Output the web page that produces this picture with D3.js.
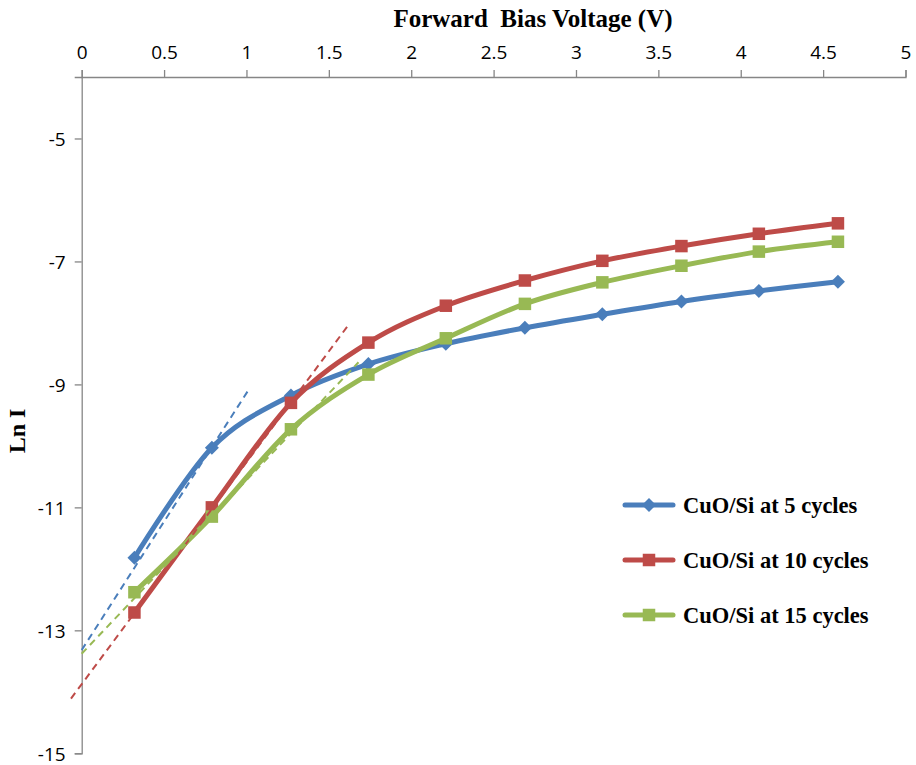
<!DOCTYPE html>
<html>
<head>
<meta charset="utf-8">
<script src="https://cdn.jsdelivr.net/npm/d3@7"></script>
<style>
  html, body { margin: 0; padding: 0; background: #fff; }
  svg { display: block; }
</style>
</head>
<body>
<svg id="chart" width="916" height="765"></svg>
<script>
// ---- data ----
const voltage = [0.32, 0.79, 1.27, 1.74, 2.21, 2.69, 3.16, 3.64, 4.11, 4.59];
const lnI5  = [-11.82, -10.03, -9.18, -8.67, -8.34, -8.08, -7.86, -7.65, -7.48, -7.33];
const lnI10 = [-12.71, -11.00, -9.30, -8.32, -7.72, -7.31, -6.99, -6.75, -6.55, -6.38];
const lnI15 = [-12.38, -11.15, -9.73, -8.84, -8.25, -7.69, -7.34, -7.07, -6.84, -6.68];
const seriesNames = ["CuO/Si at 5 cycles", "CuO/Si at 10 cycles", "CuO/Si at 15 cycles"];
// linear-fit (dashed) segments: [x, y] endpoints
const fit5  = [[0, -13.32], [1.01, -9.10]];
const fit10 = [[-0.065, -14.11], [1.62, -8.03]];
const fit15 = [[0, -13.38], [1.68, -8.64]];
const xTicks = [0, 0.5, 1, 1.5, 2, 2.5, 3, 3.5, 4, 4.5, 5];
const yTicks = [-15, -13, -11, -9, -7, -5];
const xTitle = "Forward  Bias Voltage (V)";
const yTitle = "Ln I";

// ---- layout ----
const svg = d3.select("#chart");
const x = d3.scaleLinear().domain([0, 5]).range([81.7, 905.5]);
const y = d3.scaleLinear().domain([-15, -4]).range([753.3, 77]);
const axisColor = "#868686";
const tickFont = "'Open Sans', sans-serif";
const serif = "'Liberation Serif', 'Times New Roman', serif";

// x axis (top)
const xAxis = svg.append("g").attr("transform", `translate(0,${y(-4)})`)
  .call(d3.axisTop(x).tickValues(xTicks).tickSize(7).tickPadding(11)
    .tickFormat(d3.format("")));
// y axis (left)
const yAxis = svg.append("g").attr("transform", `translate(${x(0)},0)`)
  .call(d3.axisLeft(y).tickValues(yTicks).tickSize(7).tickPadding(9)
    .tickFormat(d => d));
[xAxis, yAxis].forEach(g => {
  g.select(".domain").attr("stroke", axisColor).attr("stroke-width", 1.3);
  g.selectAll(".tick line").attr("stroke", axisColor).attr("stroke-width", 1.3);
  g.selectAll(".tick text").attr("fill", "#000").style("font-family", tickFont).style("font-size", "19px");
});
yAxis.selectAll(".tick text").attr("dy", "0.36em");

// titles
svg.append("text").attr("x", 533).attr("y", 27).attr("text-anchor", "middle")
  .style("font-family", serif).style("font-weight", "bold").style("font-size", "25px")
  .style("white-space", "pre").attr("xml:space", "preserve").text(xTitle);
svg.append("text").attr("transform", "translate(25,431) rotate(-90)").attr("text-anchor", "middle")
  .style("font-family", serif).style("font-weight", "bold").style("font-size", "24px").text(yTitle);

// series
const colors = ["#4A7EBB", "#BE4B48", "#98B954"];
const series = [lnI5, lnI10, lnI15].map((vals, i) => ({
  name: seriesNames[i], color: colors[i], marker: i === 0 ? "diamond" : "square",
  pts: voltage.map((v, j) => [v, vals[j]])
}));
const fits = [fit5, fit10, fit15];

const line = d3.line().x(d => x(d[0])).y(d => y(d[1])).curve(d3.curveCatmullRom.alpha(0));

function drawMarker(g, type, cx, cy, color, s) {
  if (type === "diamond") {
    const r = s / 2;
    g.append("path").attr("d", `M${cx},${cy - r}L${cx + r},${cy}L${cx},${cy + r}L${cx - r},${cy}Z`)
      .attr("fill", color);
  } else {
    g.append("rect").attr("x", cx - s / 2).attr("y", cy - s / 2).attr("width", s).attr("height", s)
      .attr("fill", color);
  }
}

series.forEach(s => {
  const g = svg.append("g");
  g.append("path").datum(s.pts).attr("d", line).attr("fill", "none")
    .attr("stroke", s.color).attr("stroke-width", 5).attr("stroke-linejoin", "round");
  s.pts.forEach(p => drawMarker(g, s.marker, x(p[0]), y(p[1]), s.color, s.marker === "diamond" ? 14 : 12.5));
});

// dashed fit lines
fits.forEach((f, i) => {
  svg.append("line").attr("x1", x(f[0][0])).attr("y1", y(f[0][1]))
    .attr("x2", x(f[1][0])).attr("y2", y(f[1][1]))
    .attr("stroke", colors[i]).attr("stroke-width", 2).attr("stroke-dasharray", "7,5");
});

// legend
series.forEach((s, i) => {
  const ly = 505 + i * 55;
  const g = svg.append("g");
  g.append("line").attr("x1", 625).attr("x2", 673).attr("y1", ly).attr("y2", ly)
    .attr("stroke", s.color).attr("stroke-width", 5).attr("stroke-linecap", "round");
  drawMarker(g, s.marker, 649, ly, s.color, s.marker === "diamond" ? 14 : 12.5);
  g.append("text").attr("x", 683).attr("y", ly + 7.5)
    .style("font-family", serif).style("font-weight", "bold").style("font-size", "22.5px").text(s.name);
});
</script>
</body>
</html>
